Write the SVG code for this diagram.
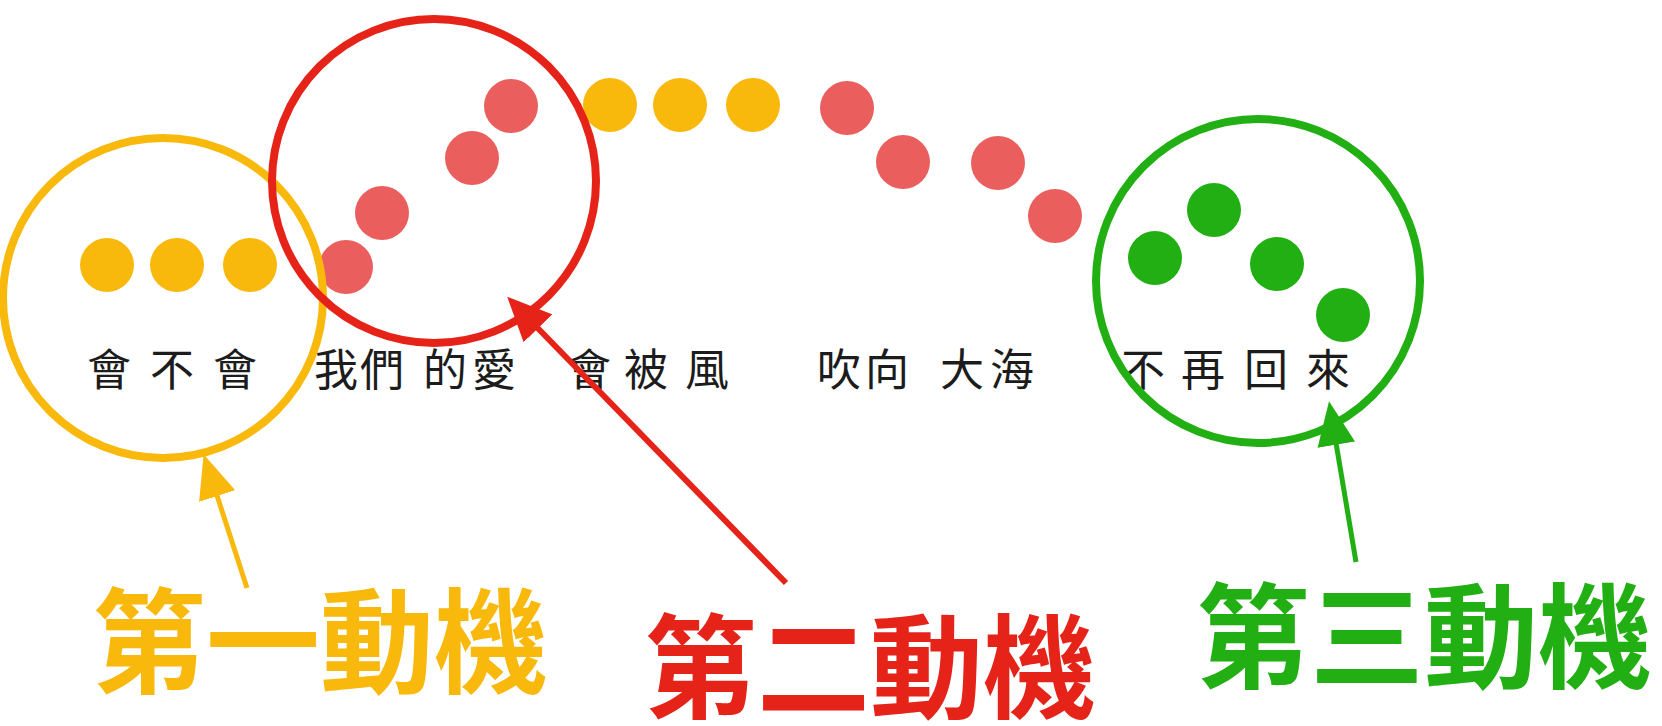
<svg xmlns="http://www.w3.org/2000/svg" width="1662" height="726" viewBox="0 0 1662 726">
<style>
.lyric{font-family:"Noto Sans CJK TC","Noto Sans CJK SC",sans-serif;font-size:44px;fill:#1c1c1c;}
.label{font-family:"Noto Sans CJK TC","Noto Sans CJK SC",sans-serif;font-size:114px;font-weight:bold;}
.ring{fill:none;stroke-width:8;}
.dy{fill:#F8B90C;}
.dr{fill:#EA5E5E;}
.dg{fill:#21AF13;}
</style>
<defs>
<marker id="ahY" viewBox="0 0 44 38" refX="20" refY="19" markerWidth="44" markerHeight="38" markerUnits="userSpaceOnUse" orient="auto"><path d="M0,0 L44,19 L0,38 z" fill="#F8B90C"/></marker>
<marker id="ahR" viewBox="0 0 44 40" refX="20" refY="20" markerWidth="44" markerHeight="40" markerUnits="userSpaceOnUse" orient="auto"><path d="M0,0 L44,20 L0,40 z" fill="#E62319"/></marker>
<marker id="ahG" viewBox="0 0 44 38" refX="20" refY="19" markerWidth="44" markerHeight="38" markerUnits="userSpaceOnUse" orient="auto"><path d="M0,0 L44,19 L0,38 z" fill="#21AF13"/></marker>
</defs>
<rect width="1662" height="726" fill="#ffffff"/>

<g id="dots">
<circle class="dy" cx="107" cy="265" r="27"/>
<circle class="dy" cx="177" cy="265" r="27"/>
<circle class="dy" cx="250" cy="265" r="27"/>
<circle class="dr" cx="346" cy="267" r="27"/>
<circle class="dr" cx="382" cy="213" r="27"/>
<circle class="dr" cx="472" cy="158" r="27"/>
<circle class="dr" cx="511" cy="106" r="27"/>
<circle class="dy" cx="610" cy="105" r="27"/>
<circle class="dy" cx="680" cy="105" r="27"/>
<circle class="dy" cx="753" cy="105" r="27"/>
<circle class="dr" cx="847" cy="108" r="27"/>
<circle class="dr" cx="903" cy="162" r="27"/>
<circle class="dr" cx="998" cy="163" r="27"/>
<circle class="dr" cx="1055" cy="216" r="27"/>
<circle class="dg" cx="1155" cy="258" r="27"/>
<circle class="dg" cx="1214" cy="210" r="27"/>
<circle class="dg" cx="1277" cy="264" r="27"/>
<circle class="dg" cx="1343" cy="315" r="27"/>
</g>

<g id="lyrics">
<text class="lyric" x="87 150 213" y="386">會不會</text>
<text class="lyric" x="314 360 423 472" y="386">我們的愛</text>
<text class="lyric" x="567 624 685" y="386">會被風</text>
<text class="lyric" x="817 865 940 990" y="386">吹向大海</text>
<text class="lyric" x="1121 1181 1244 1306" y="386">不再回來</text>
</g>

<g id="motive1">
<circle class="ring" cx="163" cy="298" r="160" stroke="#F8B90C" stroke-width="9"/>
<text class="label" x="92" y="684" fill="#F8B90C">第一動機</text>
</g>
<g id="motive2">
<circle class="ring" cx="434" cy="181" r="162" stroke="#E62319"/>
<text class="label" x="644" y="709" fill="#E62319" style="font-size:113px">第二動機</text>
</g>
<g id="motive3">
<circle class="ring" cx="1258" cy="281" r="162" stroke="#21AF13" stroke-width="7"/>
<text class="label" x="1196" y="679" fill="#21AF13">第三動機</text>
</g>

<g id="connectors">
<line x1="247" y1="588" x2="211" y2="477" stroke="#F8B90C" stroke-width="5" marker-end="url(#ahY)"/>
<line x1="786" y1="583" x2="524" y2="314" stroke="#E62319" stroke-width="6" marker-end="url(#ahR)"/>
<line x1="1356" y1="562" x2="1333" y2="425" stroke="#21AF13" stroke-width="5" marker-end="url(#ahG)"/>
</g>
</svg>
